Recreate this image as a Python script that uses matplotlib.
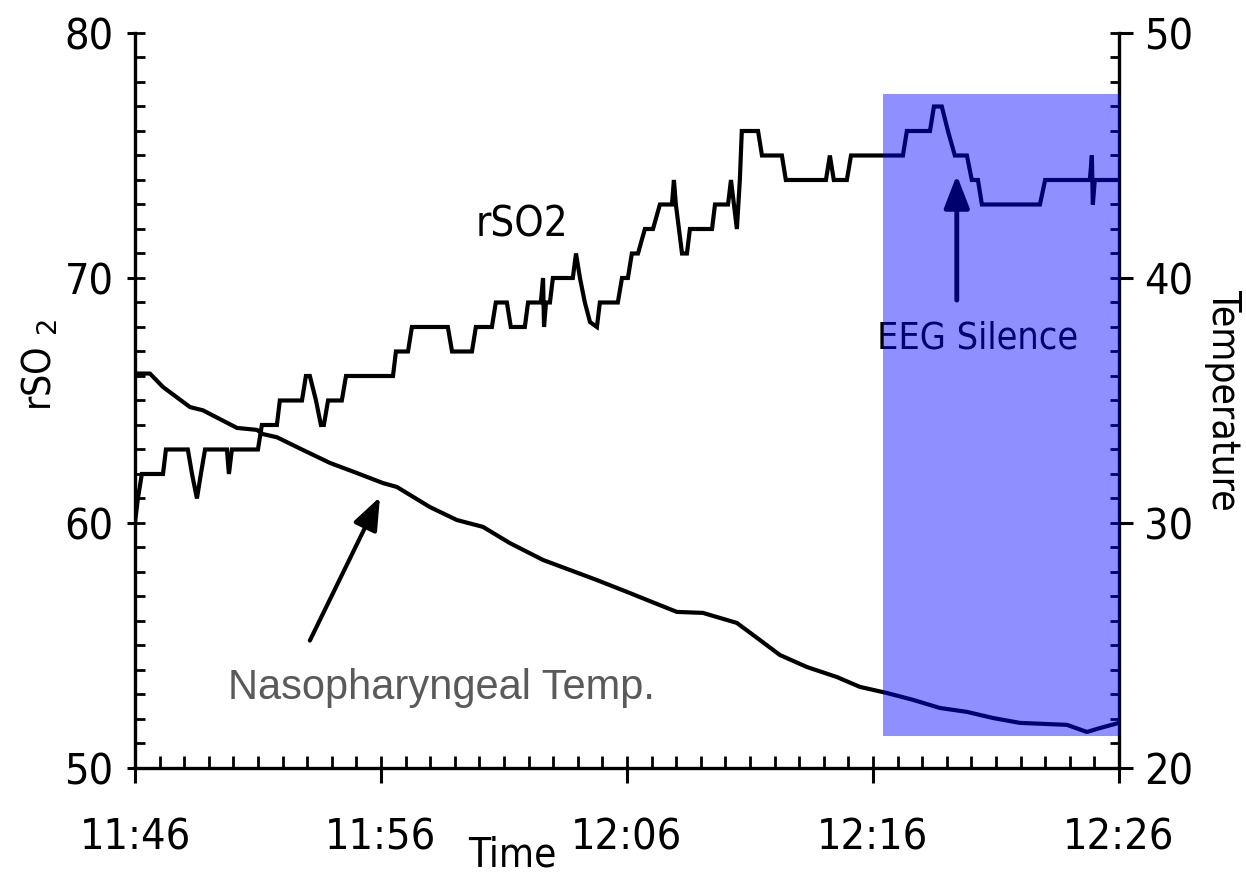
import matplotlib
matplotlib.use("Agg")
import matplotlib.pyplot as plt
from matplotlib import font_manager
from matplotlib.patches import Rectangle
from matplotlib.ticker import MultipleLocator, FixedLocator

# rSO2 trace: minutes after 11:46 and reading (stepped monitor output)
rso2_min = [0.0, 0.12, 0.28, 1.14, 1.26, 2.15, 2.32, 2.52, 2.68, 2.85, 3.74, 3.82, 3.94,
            5.0, 5.16, 5.77, 5.89, 6.79, 6.95, 7.11, 7.36, 7.56, 7.68, 7.85, 8.41, 8.58,
            10.49, 10.61, 11.1, 11.26, 12.72, 12.89, 13.7, 13.86, 14.51, 14.67, 15.12,
            15.28, 15.85, 15.98, 16.5, 16.59, 16.63, 16.71, 16.87, 16.99, 17.8, 17.93,
            18.09, 18.29, 18.5, 18.78, 18.9, 19.63, 19.8, 20.04, 20.2, 20.45, 20.73,
            21.06, 21.34, 21.83, 21.91, 21.99, 22.24, 22.44, 22.56, 23.46, 23.58, 24.11,
            24.23, 24.35, 24.47, 24.59, 24.67, 25.33, 25.49, 26.3, 26.46, 28.09, 28.25,
            28.41, 28.94, 29.11, 31.22, 31.38, 32.32, 32.48, 32.8, 33.05, 33.33, 33.82,
            34.02, 34.27, 34.43, 36.79, 37.0, 38.82, 38.9, 38.94, 39.02, 40.0]
rso2_val = [60, 61, 62, 62, 63, 63, 62, 61, 62, 63, 63, 62, 63,
            63, 64, 64, 65, 65, 66, 66, 65, 64, 64, 65, 65, 66,
            66, 67, 67, 68, 68, 67, 67, 68, 68, 69, 69,
            68, 68, 69, 69, 70, 68, 69, 69, 70, 70, 71,
            70, 69, 68.2, 68, 69, 69, 70, 70, 71, 71, 72,
            72, 73, 73, 74, 73, 71, 71, 72, 72, 73, 73,
            74, 73, 72, 74, 76, 76, 75, 75, 74, 74, 75,
            74, 74, 75, 75, 76, 76, 77, 77, 76, 75, 75,
            74, 74, 73, 73, 74, 74, 75, 73, 74, 74]

# nasopharyngeal temperature (right axis, deg C)
temp_min = [0.0, 0.61, 1.14, 2.24, 2.76, 4.15, 4.96, 5.2, 5.77, 6.83, 7.93, 9.02, 10.08,
            10.65, 11.99, 13.09, 14.15, 15.24, 16.59, 18.78, 20.12, 20.81, 22.03, 23.09,
            24.47, 25.41, 26.22, 27.32, 28.54, 29.47, 30.57, 31.63, 32.72, 33.82, 34.88,
            35.98, 37.89, 38.7, 39.23, 40.0]
temp_val = [36.1, 36.1, 35.55, 34.73, 34.6, 33.88, 33.8, 33.63, 33.5, 32.98, 32.45, 32.04,
            31.63, 31.47, 30.65, 30.12, 29.84, 29.18, 28.49, 27.67, 27.14, 26.86, 26.37,
            26.33, 25.92, 25.22, 24.61, 24.12, 23.71, 23.31, 23.06, 22.78, 22.45, 22.29,
            22.04, 21.84, 21.76, 21.47, 21.63, 21.84]

tick_minutes = [0, 10, 20, 30, 40]
tick_labels = ["11:46", "11:56", "12:06", "12:16", "12:26"]

# EEG silence window (minutes, rSO2 units)
silence_start, silence_end = 30.4, 40.0
silence_low, silence_high = 51.3, 77.5

names = {f.name for f in font_manager.fontManager.ttflist}
if "Liberation Sans Narrow" in names:
    NARROW, STRETCH = "Liberation Sans Narrow", "normal"
else:
    NARROW, STRETCH = "DejaVu Sans", "condensed"
narrow = dict(family=NARROW, stretch=STRETCH)

fig = plt.figure(figsize=(12.46, 8.8), dpi=100)
ax = fig.add_axes([0.1083, 0.1273, 0.7897, 0.8352])
ax2 = ax.twinx()

ax.plot(rso2_min, rso2_val, color="black", lw=3, solid_joinstyle="miter", zorder=2)
ax2.plot(temp_min, temp_val, color="black", lw=3, zorder=2)

ax.set_xlim(0, 40)
ax.set_ylim(50, 80)
ax2.set_ylim(20, 50)

# annotations sit under the blue overlay
ax.text(15.73, 72.2, "rSO2", fontsize=30, ha="center", va="center", **narrow)
ax.text(34.27, 67.55, "EEG Silence", fontsize=27, ha="center", va="center", **narrow)
ax.annotate("", xy=(33.41, 74.2), xytext=(33.41, 69.1),
            arrowprops=dict(arrowstyle="-|>,head_length=0.9,head_width=0.35",
                            lw=3.5, color="black", mutation_scale=22, shrinkA=0, shrinkB=0))
ax.annotate("", xy=(9.96, 61.06), xytext=(7.11, 55.2),
            arrowprops=dict(arrowstyle="-|>,head_length=0.9,head_width=0.35",
                            lw=3, color="black", mutation_scale=22, shrinkA=0, shrinkB=0))
ax.text(3.78, 53.27, "Nasopharyngeal Temp.", fontsize=30, color="#5a5a5a",
        family="Liberation Sans", ha="left", va="center")

shade = Rectangle((silence_start, silence_low), silence_end - silence_start,
                  silence_high - silence_low, transform=ax.transData,
                  facecolor="#0000ff", edgecolor="none", alpha=0.44, zorder=5)
ax2.add_patch(shade)
ax2.set_ylim(20, 50)

for s in ["top", "right"]:
    ax.spines[s].set_visible(False)
for s in ["top", "left", "bottom"]:
    ax2.spines[s].set_visible(False)
for sp in [ax.spines["left"], ax.spines["bottom"], ax2.spines["right"]]:
    sp.set_linewidth(2.4)

ax.xaxis.set_major_locator(FixedLocator(tick_minutes))
ax.set_xticklabels(tick_labels)
ax.xaxis.set_minor_locator(MultipleLocator(1))
ax.yaxis.set_major_locator(FixedLocator([50, 60, 70, 80]))
ax.yaxis.set_minor_locator(MultipleLocator(1))
ax2.yaxis.set_major_locator(FixedLocator([20, 30, 40, 50]))
ax2.yaxis.set_minor_locator(MultipleLocator(1))
ax.xaxis.remove_overlapping_locs = False
ax.yaxis.remove_overlapping_locs = False
ax2.yaxis.remove_overlapping_locs = False

ax.tick_params(axis="x", which="major", direction="out", length=11, width=2.2, pad=24)
ax.tick_params(axis="x", which="minor", direction="in", length=8.5, width=2)
ax.tick_params(axis="y", which="major", direction="out", length=5.5, width=2.2, pad=10)
ax.tick_params(axis="y", which="minor", direction="in", length=7.5, width=2)
ax2.tick_params(axis="y", which="major", direction="out", length=10, width=2.2, pad=8)
ax2.tick_params(axis="y", which="minor", direction="in", length=6.5, width=2)

for lab in ax.get_xticklabels() + ax.get_yticklabels() + ax2.get_yticklabels():
    lab.set_fontsize(31)
    lab.set_family(NARROW)
    lab.set_stretch(STRETCH)

fig.text(512 / 1246, 1 - 855 / 880, "Time", fontsize=29, ha="center", va="center", **narrow)
fig.text(40 / 1246, 1 - 365 / 880, "rSO $_2$", fontsize=28, rotation=90,
         ha="center", va="center", **narrow)
fig.text(1223 / 1246, 1 - 400 / 880, "Temperature", fontsize=28, rotation=270,
         ha="center", va="center", **narrow)

fig.savefig("out.png", dpi=100)
